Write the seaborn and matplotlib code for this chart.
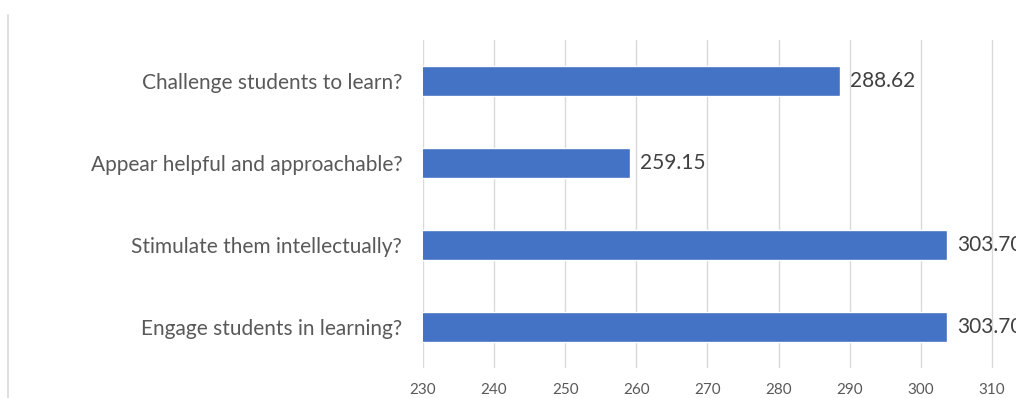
import matplotlib
matplotlib.use("Agg")
import matplotlib.pyplot as plt
from matplotlib.lines import Line2D
import seaborn as sns
import pandas as pd

questions = [
    "Challenge students to learn?",
    "Appear helpful and approachable?",
    "Stimulate them intellectually?",
    "Engage students in learning?",
]
scores = [288.62, 259.15, 303.70, 303.70]
x_ticks = [230, 240, 250, 260, 270, 280, 290, 300, 310]

df = pd.DataFrame({"question": questions, "score": scores})

sns.set_theme(style="white")
plt.rcParams["font.family"] = ["Lato", "DejaVu Sans"]

fig = plt.figure(figsize=(10.16, 3.98), dpi=100)
ax = fig.add_axes([423 / 1016, 30 / 398, 1 - 423 / 1016, 328 / 398])

sns.barplot(data=df, y="question", x="score", orient="h", color="#4472C4",
            width=0.37, saturation=1, ax=ax)

ax.set_xlim(230, 230 + (1016 - 423) / 7.11)
ax.set_ylim(3.5, -0.5)
ax.set_xticks(x_ticks)
ax.set_xticklabels([str(t) for t in x_ticks])
ax.grid(axis="x", color="#D9D9D9", linewidth=1)
ax.grid(axis="y", visible=False)
ax.set_axisbelow(True)
for s in ax.spines.values():
    s.set_visible(False)
ax.set_xlabel("")
ax.set_ylabel("")
ax.tick_params(axis="x", length=0, pad=11, labelsize=11, labelcolor="#595959")
ax.tick_params(axis="y", length=0, pad=15, labelsize=15, labelcolor="#595959")

for c in ax.containers:
    ax.bar_label(c, fmt="%.2f", padding=7, fontsize=15, color="#404040", clip_on=False)

# outer chart border on the left
fig.add_artist(Line2D([8 / 1016, 8 / 1016], [0, 1 - 15 / 398], color="#D9D9D9",
                      linewidth=1.2, transform=fig.transFigure))

fig.savefig("out.png", dpi=100)
